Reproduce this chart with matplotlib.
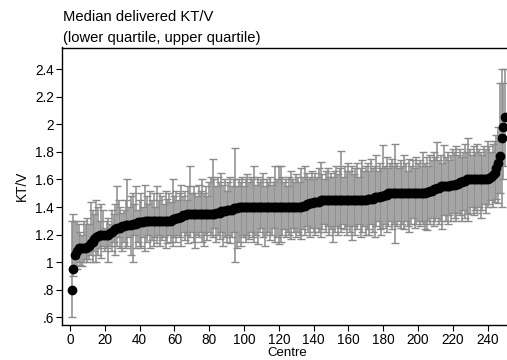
import matplotlib
matplotlib.use("Agg")
import matplotlib.pyplot as plt
import numpy as np

plt.rcParams["font.family"] = ["Liberation Sans", "DejaVu Sans"]

# Median delivered KT/V per centre, sorted ascending
median = [
    0.80, 0.95, 1.05, 1.08, 1.10, 1.10, 1.10, 1.10, 1.10, 1.11,
    1.12, 1.14, 1.15, 1.17, 1.18, 1.19, 1.20, 1.20, 1.20, 1.20,
    1.20, 1.20, 1.21, 1.22, 1.23, 1.24, 1.25, 1.25, 1.25, 1.26,
    1.26, 1.27, 1.27, 1.27, 1.27, 1.28, 1.28, 1.28, 1.29, 1.29,
    1.29, 1.29, 1.30, 1.30, 1.30, 1.30, 1.30, 1.30, 1.30, 1.30,
    1.30, 1.30, 1.30, 1.30, 1.30, 1.30, 1.30, 1.30, 1.31, 1.31,
    1.32, 1.32, 1.33, 1.33, 1.34, 1.34, 1.35, 1.35, 1.35, 1.35,
    1.35, 1.35, 1.35, 1.35, 1.35, 1.35, 1.35, 1.35, 1.35, 1.35,
    1.35, 1.35, 1.35, 1.36, 1.36, 1.36, 1.37, 1.37, 1.37, 1.38,
    1.38, 1.38, 1.38, 1.39, 1.39, 1.39, 1.40, 1.40, 1.40, 1.40,
    1.40, 1.40, 1.40, 1.40, 1.40, 1.40, 1.40, 1.40, 1.40, 1.40,
    1.40, 1.40, 1.40, 1.40, 1.40, 1.40, 1.40, 1.40, 1.40, 1.40,
    1.40, 1.40, 1.40, 1.40, 1.40, 1.40, 1.40, 1.40, 1.40, 1.40,
    1.40, 1.40, 1.40, 1.41, 1.41, 1.42, 1.42, 1.43, 1.43, 1.44,
    1.44, 1.44, 1.44, 1.45, 1.45, 1.45, 1.45, 1.45, 1.45, 1.45,
    1.45, 1.45, 1.45, 1.45, 1.45, 1.45, 1.45, 1.45, 1.45, 1.45,
    1.45, 1.45, 1.45, 1.45, 1.45, 1.45, 1.45, 1.45, 1.45, 1.45,
    1.46, 1.46, 1.46, 1.46, 1.47, 1.47, 1.47, 1.47, 1.48, 1.48,
    1.49, 1.49, 1.50, 1.50, 1.50, 1.50, 1.50, 1.50, 1.50, 1.50,
    1.50, 1.50, 1.50, 1.50, 1.50, 1.50, 1.50, 1.50, 1.50, 1.50,
    1.50, 1.50, 1.50, 1.50, 1.51, 1.51, 1.52, 1.52, 1.53, 1.53,
    1.54, 1.54, 1.55, 1.55, 1.55, 1.55, 1.55, 1.55, 1.56, 1.56,
    1.56, 1.57, 1.57, 1.58, 1.58, 1.59, 1.59, 1.60, 1.60, 1.60,
    1.60, 1.60, 1.60, 1.60, 1.60, 1.60, 1.60, 1.60, 1.60, 1.60,
    1.61, 1.62, 1.63, 1.65, 1.68, 1.72, 1.77, 1.90, 1.98, 2.05,
]

# Lower quartile per centre
lower_q = [
    0.60, 0.90, 0.97, 0.95, 1.00, 0.98, 0.97, 1.00, 1.02, 1.00,
    1.02, 1.05, 1.00, 1.08, 1.00, 1.05, 1.10, 1.03, 1.12, 1.08,
    1.10, 1.00, 1.12, 1.08, 1.15, 1.05, 1.12, 1.18, 1.10, 1.08,
    1.15, 1.10, 1.12, 1.18, 1.05, 1.00, 1.20, 1.10, 1.15, 1.12,
    1.10, 1.18, 1.08, 1.15, 1.20, 1.10, 1.16, 1.12, 1.18, 1.14,
    1.20, 1.12, 1.16, 1.18, 1.10, 1.14, 1.20, 1.15, 1.12, 1.18,
    1.15, 1.20, 1.18, 1.12, 1.22, 1.16, 1.20, 1.14, 1.18, 1.22,
    1.15, 1.10, 1.20, 1.18, 1.22, 1.15, 1.12, 1.20, 1.16, 1.22,
    1.20, 1.18, 1.25, 1.15, 1.20, 1.17, 1.22, 1.12, 1.18, 1.15,
    1.20, 1.14, 1.18, 1.22, 1.00, 1.10, 1.15, 1.12, 1.20, 1.18,
    1.15, 1.20, 1.17, 1.22, 1.18, 1.15, 1.20, 1.13, 1.22, 1.25,
    1.18, 1.12, 1.20, 1.22, 1.16, 1.20, 1.25, 1.15, 1.18, 1.13,
    1.15, 1.20, 1.24, 1.18, 1.22, 1.20, 1.17, 1.25, 1.22, 1.18,
    1.22, 1.20, 1.17, 1.24, 1.20, 1.26, 1.22, 1.18, 1.25, 1.22,
    1.20, 1.25, 1.22, 1.18, 1.24, 1.28, 1.22, 1.26, 1.20, 1.24,
    1.15, 1.22, 1.26, 1.20, 1.25, 1.22, 1.28, 1.24, 1.20, 1.26,
    1.22, 1.16, 1.26, 1.20, 1.24, 1.28, 1.18, 1.22, 1.26, 1.20,
    1.24, 1.20, 1.28, 1.22, 1.18, 1.26, 1.30, 1.24, 1.20, 1.25,
    1.28, 1.22, 1.26, 1.30, 1.24, 1.28, 1.14, 1.26, 1.30, 1.25,
    1.28, 1.24, 1.30, 1.26, 1.22, 1.28, 1.32, 1.25, 1.28, 1.30,
    1.26, 1.30, 1.28, 1.24, 1.23, 1.30, 1.28, 1.32, 1.26, 1.30,
    1.32, 1.28, 1.30, 1.24, 1.34, 1.30, 1.28, 1.34, 1.30, 1.36,
    1.32, 1.30, 1.36, 1.34, 1.30, 1.38, 1.32, 1.35, 1.30, 1.36,
    1.40, 1.34, 1.38, 1.36, 1.40, 1.32, 1.38, 1.42, 1.36, 1.40,
    1.42, 1.45, 1.40, 1.44, 1.46, 1.43, 1.50, 1.40, 1.60, 1.70,
]

# Upper quartile per centre
upper_q = [
    1.30, 1.35, 1.30, 1.30, 1.28, 1.22, 1.20, 1.30, 1.28, 1.32,
    1.28, 1.44, 1.38, 1.35, 1.45, 1.40, 1.30, 1.42, 1.38, 1.25,
    1.30, 1.32, 1.28, 1.38, 1.35, 1.42, 1.55, 1.45, 1.40, 1.36,
    1.38, 1.45, 1.60, 1.40, 1.48, 1.50, 1.42, 1.55, 1.38, 1.45,
    1.50, 1.40, 1.56, 1.48, 1.42, 1.52, 1.45, 1.50, 1.40, 1.55,
    1.45, 1.50, 1.48, 1.42, 1.52, 1.46, 1.50, 1.44, 1.60, 1.48,
    1.52, 1.45, 1.50, 1.56, 1.48, 1.52, 1.45, 1.55, 1.70, 1.50,
    1.55, 1.50, 1.48, 1.56, 1.52, 1.60, 1.50, 1.55, 1.48, 1.58,
    1.62, 1.75, 1.60, 1.55, 1.62, 1.58, 1.65, 1.56, 1.60, 1.52,
    1.58, 1.62, 1.55, 1.60, 1.83, 1.55, 1.60, 1.58, 1.62, 1.55,
    1.60, 1.64, 1.58, 1.62, 1.60, 1.70, 1.56, 1.62, 1.58, 1.60,
    1.65, 1.55, 1.60, 1.58, 1.62, 1.56, 1.58, 1.70, 1.60, 1.70,
    1.70, 1.62, 1.58, 1.60, 1.55, 1.62, 1.66, 1.60, 1.58, 1.64,
    1.62, 1.58, 1.68, 1.62, 1.70, 1.65, 1.60, 1.62, 1.66, 1.60,
    1.65, 1.62, 1.68, 1.73, 1.64, 1.60, 1.66, 1.68, 1.62, 1.65,
    1.62, 1.66, 1.70, 1.64, 1.68, 1.81, 1.62, 1.70, 1.66, 1.72,
    1.66, 1.70, 1.64, 1.68, 1.72, 1.62, 1.68, 1.74, 1.66, 1.70,
    1.72, 1.66, 1.75, 1.68, 1.70, 1.78, 1.66, 1.72, 1.68, 1.85,
    1.70, 1.76, 1.68, 1.72, 1.75, 1.70, 1.86, 1.72, 1.68, 1.74,
    1.70, 1.78, 1.72, 1.66, 1.75, 1.70, 1.74, 1.68, 1.76, 1.72,
    1.74, 1.70, 1.80, 1.72, 1.76, 1.70, 1.78, 1.74, 1.80, 1.76,
    1.87, 1.74, 1.78, 1.72, 1.85, 1.76, 1.80, 1.74, 1.78, 1.82,
    1.80, 1.84, 1.78, 1.82, 1.76, 1.80, 1.86, 1.80, 1.90, 1.82,
    1.78, 1.84, 1.80, 1.86, 1.82, 1.80, 1.78, 1.84, 1.82, 1.88,
    1.84, 1.80, 1.86, 1.88, 1.92, 1.98, 2.30, 2.40, 2.30, 2.40,
]

y_ticks = [0.6, 0.8, 1.0, 1.2, 1.4, 1.6, 1.8, 2.0, 2.2, 2.4]
y_tick_labels = [".6", ".8", "1", "1.2", "1.4", "1.6", "1.8", "2", "2.2", "2.4"]
x_ticks = [0, 20, 40, 60, 80, 100, 120, 140, 160, 180, 200, 220, 240]

centre = np.arange(1, len(median) + 1)
med = np.array(median)
lo = np.array(lower_q)
hi = np.array(upper_q)

W, H = 507, 360
fig = plt.figure(figsize=(W / 100, H / 100), dpi=100)
ax = fig.add_axes([62 / W, (H - 325) / H, (512 - 62) / W, (325 - 47.5) / H])

ax.errorbar(centre, med, yerr=[med - lo, hi - med], fmt="none",
            ecolor="#8a8a8a", elinewidth=1.1, capsize=2.7, capthick=1.0,
            zorder=2)
ax.plot(centre, med, "o", color="black", markersize=6, zorder=3)

ax.set_xlim(-4.6, 254)
ax.set_ylim(0.544, 2.558)
ax.set_yticks(y_ticks)
ax.set_yticklabels(y_tick_labels)
ax.set_xticks(x_ticks)
ax.tick_params(direction="out", length=4, width=0.8, labelsize=9.8, pad=2)
for s in ax.spines.values():
    s.set_linewidth(1.0)

ax.set_ylabel("KT/V", fontsize=9.8, labelpad=4)
ax.set_xlabel("Centre", fontsize=9.5, labelpad=-0.5)

fig.text(63 / W, 1 - 17 / H, "Median delivered KT/V", fontsize=10.6,
         ha="left", va="center")
fig.text(63 / W, 1 - 38 / H, "(lower quartile, upper quartile)", fontsize=10.6,
         ha="left", va="center")

fig.savefig("out.png", dpi=100)
